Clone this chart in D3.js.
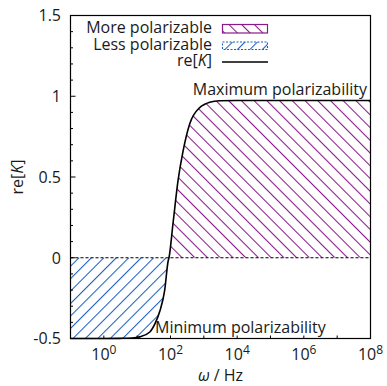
<!DOCTYPE html>
<html>
<head>
<meta charset="utf-8">
<script src="https://cdn.jsdelivr.net/npm/d3@7"></script>
<style>
  body { margin: 0; background: #fff; }
  text { font-family: "Open Sans", sans-serif; font-size: 16px; fill: #1a1a1a; }
</style>
</head>
<body>
<div id="chart"></div>
<script>
// values
const omega = [0.1, 1, 3, 7, 12, 24, 34, 48, 67, 85, 90, 120, 169, 238, 378, 750, 1060, 1500, 3000, 1e4, 1e8];
const reK = [-0.5, -0.5, -0.499, -0.497, -0.49, -0.46, -0.41, -0.33, -0.2, -0.02, 0, 0.22, 0.48, 0.66, 0.83, 0.93, 0.95, 0.963, 0.972, 0.974, 0.974];

const xTickLabels = [0, 2, 4, 6, 8];          // exponents of 10
const xTicks = d3.range(-1, 9);                // every decade
const yTickLabels = [-0.5, 0, 0.5, 1, 1.5];
const legendLabels = ["More polarizable", "Less polarizable", "re[K]"];

const width = 387, height = 386;
const x = d3.scaleLog().domain([0.1, 1e8]).range([70.5, 370.5]);
const y = d3.scaleLinear().domain([-0.5, 1.5]).range([338.5, 15.5]);

const purple = "#8a1a8a", blue = "#1d5fbf";

const svg = d3.select("#chart").append("svg")
  .attr("width", width).attr("height", height);

const defs = svg.append("defs");

// hatching
function hatch(id, color, gap, angle) {
  const p = defs.append("pattern")
    .attr("id", id)
    .attr("patternUnits", "userSpaceOnUse")
    .attr("width", gap).attr("height", gap)
    .attr("patternTransform", `rotate(${angle})`);
  p.append("line")
    .attr("x1", 0.5).attr("x2", 0.5).attr("y1", 0).attr("y2", gap)
    .attr("stroke", color).attr("stroke-width", 1.1);
}
hatch("hatchMore", purple, 9, -45);
hatch("hatchLess", blue, 8.8, 45);

defs.append("clipPath").attr("id", "clipUp").append("rect")
  .attr("x", x(0.1)).attr("y", y(1.5))
  .attr("width", x(1e8) - x(0.1)).attr("height", y(0) - y(1.5));
defs.append("clipPath").attr("id", "clipDown").append("rect")
  .attr("x", x(0.1)).attr("y", y(0))
  .attr("width", x(1e8) - x(0.1)).attr("height", y(-0.5) - y(0));

const pts = omega.map((w, i) => [w, reK[i]]);

const area = d3.area()
  .x(d => x(d[0]))
  .y0(y(0))
  .y1(d => y(d[1]))
  .curve(d3.curveMonotoneX);

svg.append("path").attr("d", area(pts))
  .attr("fill", "url(#hatchMore)").attr("clip-path", "url(#clipUp)");
svg.append("path").attr("d", area(pts))
  .attr("fill", "url(#hatchLess)").attr("clip-path", "url(#clipDown)");

// zero line
svg.append("line")
  .attr("x1", x(0.1)).attr("x2", x(1e8))
  .attr("y1", y(0)).attr("y2", y(0))
  .attr("stroke", "#000").attr("stroke-width", 1.2)
  .attr("stroke-dasharray", "3,2");

// curve
const line = d3.line()
  .x(d => x(d[0]))
  .y(d => y(d[1]))
  .curve(d3.curveMonotoneX);

svg.append("path").attr("d", line(pts))
  .attr("fill", "none").attr("stroke", "#000").attr("stroke-width", 1.6);

// ticks (inward)
const g = svg.append("g").attr("stroke", "#000").attr("stroke-width", 1);
g.selectAll(".xt").data(xTicks).join("line")
  .attr("x1", d => x(Math.pow(10, d))).attr("x2", d => x(Math.pow(10, d)))
  .attr("y1", y(-0.5)).attr("y2", y(-0.5) - 3);
g.selectAll(".ytm").data(d3.range(-5, 16).map(d => d / 10)).join("line")
  .attr("x1", x(0.1)).attr("x2", d => x(0.1) + (Math.abs(d * 2 - Math.round(d * 2)) < 1e-6 ? 5 : 2.5))
  .attr("y1", d => y(d)).attr("y2", d => y(d));

// border
svg.append("rect")
  .attr("x", x(0.1)).attr("y", y(1.5))
  .attr("width", x(1e8) - x(0.1)).attr("height", y(-0.5) - y(1.5))
  .attr("fill", "none").attr("stroke", "#000").attr("stroke-width", 1.2);

// tick labels
svg.selectAll(".yl").data(yTickLabels).join("text")
  .attr("x", 61).attr("y", d => y(d)).attr("dy", "0.36em")
  .attr("text-anchor", "end")
  .text(d => d);

const xl = svg.selectAll(".xl").data(xTickLabels).join("text")
  .attr("x", d => x(Math.pow(10, d))).attr("y", 360)
  .attr("text-anchor", "middle");
xl.append("tspan").text("10");
xl.append("tspan").attr("dy", -6).style("font-size", "12px").text(d => d);

// axis titles
const yt = svg.append("text")
  .attr("transform", `translate(23,${(y(1.5) + y(-0.5)) / 2}) rotate(-90)`)
  .attr("text-anchor", "middle");
yt.append("tspan").text("re[");
yt.append("tspan").style("font-style", "italic").text("K");
yt.append("tspan").text("]");

const xt = svg.append("text")
  .attr("x", (x(0.1) + x(1e8)) / 2).attr("y", 381)
  .attr("text-anchor", "middle");
xt.append("tspan").style("font-style", "italic").text("ω");
xt.append("tspan").text(" / Hz");

// annotations
svg.append("text").attr("x", 367).attr("y", 95)
  .attr("text-anchor", "end").text("Maximum polarizability");
svg.append("text").attr("x", 155).attr("y", 333)
  .text("Minimum polarizability");

// legend
const legY = [33, 50, 66];
legendLabels.forEach((lab, i) => {
  const t = svg.append("text").attr("x", 212).attr("y", legY[i])
    .attr("text-anchor", "end");
  if (i === 2) {
    t.append("tspan").text("re[");
    t.append("tspan").style("font-style", "italic").text("K");
    t.append("tspan").text("]");
  } else {
    t.text(lab);
  }
});
svg.append("rect").attr("x", 222.5).attr("y", 24.5).attr("width", 45).attr("height", 8.5)
  .attr("fill", "url(#hatchMore)").attr("stroke", purple).attr("stroke-width", 1.2);
svg.append("rect").attr("x", 222.5).attr("y", 42).attr("width", 45).attr("height", 7.5)
  .attr("fill", "url(#hatchLess)").attr("stroke", blue).attr("stroke-width", 1.1)
  .attr("stroke-dasharray", "2,1.5");
svg.append("line").attr("x1", 222).attr("x2", 268).attr("y1", 62).attr("y2", 62)
  .attr("stroke", "#000").attr("stroke-width", 1.4);
</script>
</body>
</html>
